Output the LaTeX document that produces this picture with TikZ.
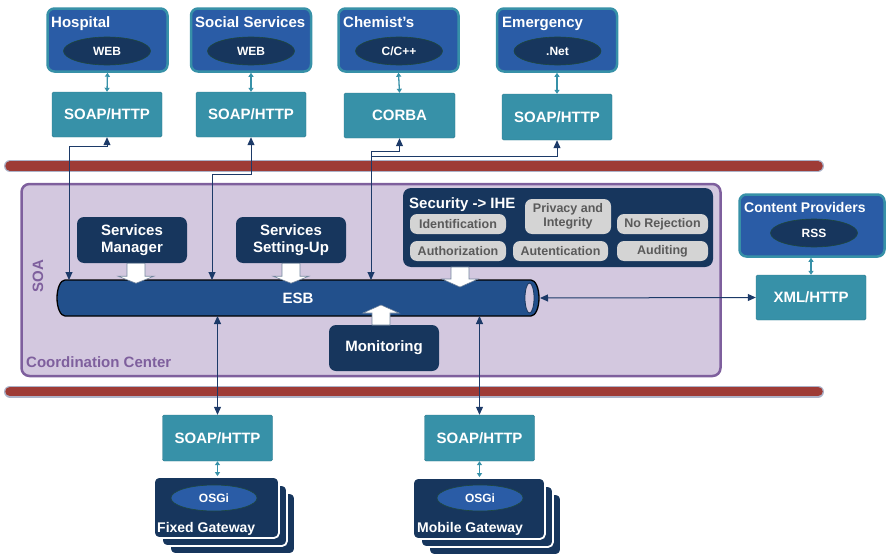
\documentclass[tikz,border=0pt]{standalone}
\usepackage{fontspec}
\setmainfont{Liberation Sans}
\usetikzlibrary{arrows.meta,calc,shapes.geometric}
\definecolor{orgblue}{RGB}{42,92,166}
\definecolor{tealc}{RGB}{55,145,168}
\definecolor{navy}{RGB}{23,54,93}
\definecolor{ellb}{RGB}{30,72,62}
\definecolor{esbblue}{RGB}{34,80,140}
\definecolor{busred}{RGB}{158,59,54}
\definecolor{busedge}{RGB}{172,178,200}
\definecolor{lav}{RGB}{211,200,223}
\definecolor{purp}{RGB}{126,95,157}
\definecolor{pillc}{RGB}{212,212,212}
\definecolor{pilltext}{RGB}{90,90,90}
\definecolor{connc}{RGB}{28,58,104}
\newcommand\blkarrow[3]{%
  \draw[blk] ($(#1)+(-9,0)$) -- ++(0,#2) -- ++(-9,0) -- ++(18,#3) -- ++(18,-#3) -- ++(-9,0) -- ++(0,-#2) -- cycle;}
\begin{document}
\begin{tikzpicture}[x=1pt,y=-1pt,
  ftitle/.style={font=\bfseries\fontsize{15}{17}\selectfont},
  org/.style={draw=tealc, fill=orgblue, line width=2.5pt, rounded corners=7pt,
    minimum width=120pt, minimum height=63pt, inner sep=0pt},
  ttl/.style={ftitle, text=white, anchor=base west, inner sep=0pt},
  ell/.style={ellipse, draw=ellb, line width=0.6pt, fill=navy, text=white,
    minimum width=87pt, minimum height=28pt, inner sep=0pt,
    font=\bfseries\fontsize{12}{14}\selectfont},
  proto/.style={fill=tealc, draw=tealc!85!black, line width=0.4pt, rounded corners=1.5pt,
    minimum width=110pt, minimum height=45pt, inner sep=0pt, text=white, ftitle},
  dark/.style={fill=navy, rounded corners=7pt, text=white, ftitle, align=center,
    minimum width=110pt, minimum height=46pt, inner sep=0pt},
  pill/.style={fill=pillc, rounded corners=7pt, text=pilltext, align=center,
    font=\bfseries\fontsize{12.5}{14.5}\selectfont, minimum height=20pt, inner sep=0pt},
  gw/.style={fill=navy, draw=white, line width=1.8pt, rounded corners=5pt, inner sep=0pt},
  blk/.style={fill=white, draw=navy!60, line width=0.6pt},
  bi/.style={draw=connc, line width=1pt, {Triangle[length=8pt,width=7pt]}-{Triangle[length=8pt,width=7pt]}},
  one/.style={draw=connc, line width=1pt, -{Triangle[length=8pt,width=7pt]}},
  tbi/.style={draw=tealc, line width=1.3pt, {Triangle[length=4pt,width=5pt]}-{Triangle[length=4pt,width=5pt]}},
]
\useasboundingbox (0,0) rectangle (887,554);

% bus bars
\draw[line width=12pt, busedge, line cap=round] (10,166) -- (818,166);
\draw[line width=9.5pt, busred, line cap=round] (10,166) -- (818,166);
\draw[line width=12pt, busedge, line cap=round] (10,391.5) -- (818,391.5);
\draw[line width=9.5pt, busred, line cap=round] (10,391.5) -- (818,391.5);

% coordination center
\node[draw=purp, fill=lav, line width=2.5pt, rounded corners=8pt,
  minimum width=699pt, minimum height=192pt] (cc) at (371,280) {};
\node[rotate=90, text=purp, ftitle, inner sep=0pt] (soa) at (38,276) {SOA};
\node[text=purp, ftitle, anchor=base west, inner sep=0pt] (cct) at (26,367) {Coordination Center};

% organisations
\node[org] (hosp) at (107.5,40) {};
\node[ttl] (hospt) at (51,27.5) {Hospital};
\node[ell] (hospe) at (107,51) {WEB};
\node[org] (soc) at (251,40) {};
\node[ttl] (soct) at (195,27.5) {Social Services};
\node[ell] (soce) at (251,51) {WEB};
\node[org] (chem) at (398.5,40) {};
\node[ttl] (chemt) at (343,27.5) {Chemist’s};
\node[ell] (cheme) at (399,51) {C/C++};
\node[org] (emer) at (557,40) {};
\node[ttl] (emert) at (502,27.5) {Emergency};
\node[ell] (emere) at (557.5,51) {.Net};

% protocol boxes
\node[proto] (hsoap) at (107,114.5) {SOAP/HTTP};
\node[proto] (ssoap) at (251,114.5) {SOAP/HTTP};
\node[proto, minimum width=111pt] (csoap) at (399.5,115.5) {CORBA};
\node[proto, minimum height=46pt] (esoap) at (557,117) {SOAP/HTTP};

\draw[tbi] (hosp.south) -- (hsoap.north);
\draw[tbi] (soc.south) -- (ssoap.north);
\draw[tbi] (chem.south) -- (csoap.north);
\draw[tbi] (emer.south) -- (esoap.north);

% content providers
\node[org, minimum width=145pt, minimum height=62pt] (cp) at (812,225.5) {};
\node[ttl, fontsize/.style={}, font=\bfseries\fontsize{14}{16}\selectfont] (cpt) at (744,212) {Content Providers};
\node[ell] (cpe) at (814,233) {RSS};
\node[proto] (xml) at (811,297.5) {XML/HTTP};
\draw[tbi] (cp.south -| xml.north) -- (xml.north);

% inner boxes
\node[dark] (sm) at (132,240) {Services\\Manager};
\node[dark] (su) at (291,240) {Services\\Setting-Up};
\node[dark] (mon) at (384,348) {Monitoring};
\node[fill=navy, rounded corners=8pt, minimum width=310pt, minimum height=79pt] (sec) at (558,227.5) {};
\node[ttl] (sect) at (409,208) {Security -> IHE};
\node[pill, minimum width=96pt] (ident) at (458,224) {Identification};
\node[pill, minimum width=96pt] (auth) at (458,251) {Authorization};
\node[pill, minimum width=86pt, minimum height=35pt, font=\bfseries\fontsize{12.5}{14}\selectfont] (priv) at (568,216.5) {Privacy and\\Integrity};
\node[pill, minimum width=95pt] (autent) at (560.5,251) {Autentication};
\node[pill, minimum width=91pt] (norej) at (662.5,224) {No Rejection};
\node[pill, minimum width=91pt] (audit) at (662.5,251) {Auditing};

% ESB
\filldraw[fill=esbblue, draw=black, line width=1.3pt] (65,280) -- (531,280)
  arc[start angle=-90, end angle=90, x radius=8, y radius=18] -- (65,316)
  arc[start angle=90, end angle=270, x radius=8, y radius=18] -- cycle;
\draw[navy, fill=lav, line width=0.8pt] (529.5,298) ellipse[x radius=4.5, y radius=15];
\node[ftitle, text=white] (esb) at (298,298) {ESB};

% block arrows
\coordinate (smA) at ($(sm.south)+(4,0)$);
\blkarrow{smA}{13}{7}
\blkarrow{su.south}{13}{7}
\coordinate (secA) at (460,267);
\blkarrow{secA}{12}{8}
\coordinate (monA) at (381,325);
\blkarrow{monA}{-12}{-8}

% ESB attachment points
\coordinate (e1) at (69,280);
\coordinate (e2) at (212,280);
\coordinate (e3) at (371,280);
\coordinate (br) at (371,156);
\coordinate (e4) at (217.5,316);
\coordinate (e5) at (479.5,316);
\coordinate (e6) at (540,298);

% bottom protocol and gateways
\node[proto, minimum height=46pt] (fsoap) at (217.5,438) {SOAP/HTTP};
\node[proto, minimum height=46pt] (msoap) at (479.5,438) {SOAP/HTTP};

\node[gw, minimum width=125pt, minimum height=61pt] (fg3) at (232.5,523.5) {};
\node[gw, minimum width=125pt, minimum height=61pt] (fg2) at (224.5,515.5) {};
\node[gw, minimum width=125pt, minimum height=61pt] (fg) at (216.5,507.5) {};
\node[ell, fill=orgblue, minimum width=86pt, minimum height=26pt] (fo) at (214,498) {OSGi};
\node[ttl, font=\bfseries\fontsize{14}{16}\selectfont] (fgt) at (157,532) {Fixed Gateway};

\node[gw, minimum width=132pt, minimum height=61pt] (mg3) at (495,524.5) {};
\node[gw, minimum width=132pt, minimum height=61pt] (mg2) at (487,516.5) {};
\node[gw, minimum width=132pt, minimum height=61pt] (mg) at (479,508.5) {};
\node[ell, fill=orgblue, minimum width=86pt, minimum height=26pt] (mo) at (480,498) {OSGi};
\node[ttl, font=\bfseries\fontsize{14}{16}\selectfont] (mgt) at (417,532) {Mobile Gateway};

\draw[tbi] (fsoap.south) -- (fsoap.south |- fg.north);
\draw[tbi] (msoap.south) -- (msoap.south |- mg.north);

% connectors
\draw[bi] (hsoap.south) -- ++(0,9) -| (e1);
\draw[bi] (ssoap.south) -- ++(0,37) -| (e2);
\draw[bi] (csoap.south) -- ++(0,13) -| (e3);
\draw[one] (br) -| (esoap.south);
\draw[bi] (e4) -- (fsoap.north);
\draw[bi] (e5) -- (msoap.north);
\draw[bi] (e6) -- (xml.west);
\end{tikzpicture}
\end{document}
